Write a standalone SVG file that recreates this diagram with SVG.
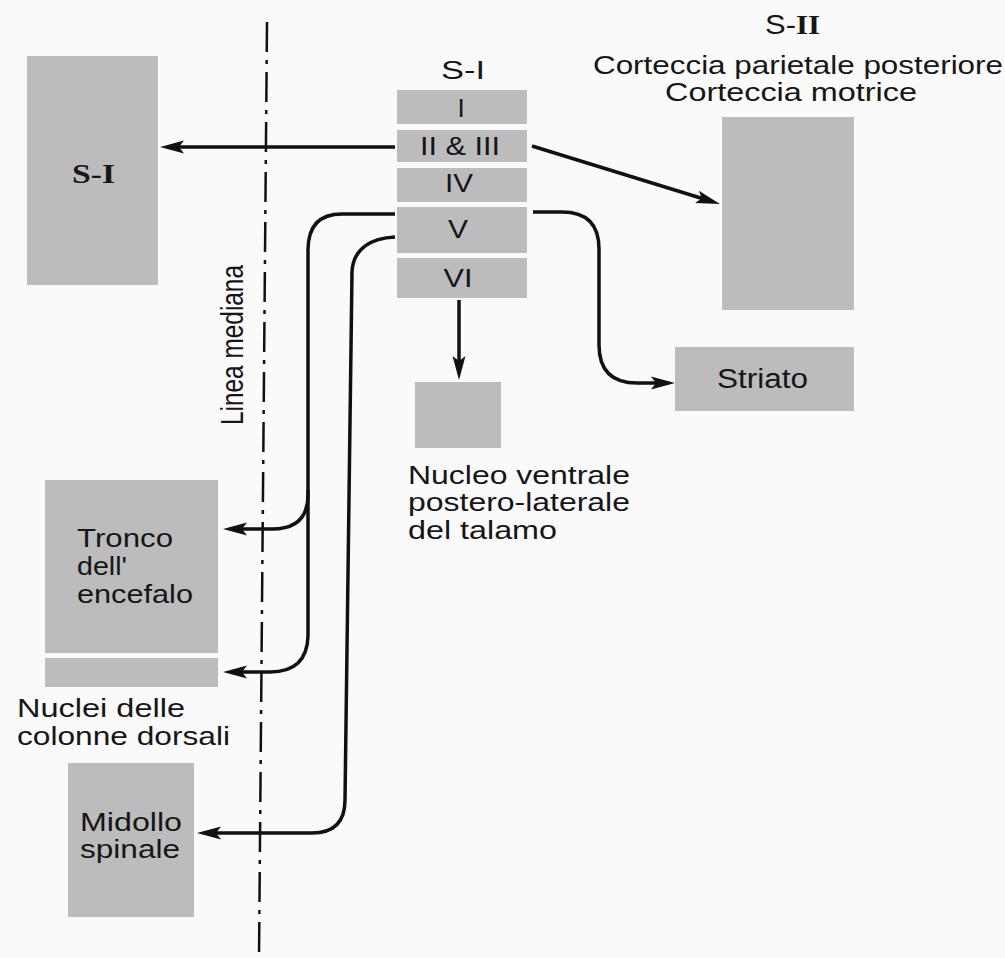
<svg xmlns="http://www.w3.org/2000/svg" width="1005" height="958" viewBox="0 0 1005 958">
  <defs>
    <style>
      .box { fill: #bcbcbc; }
      .lbl { font-family: "Liberation Sans", Arial, sans-serif; font-size: 27px; fill: #161616; }
      .ml { font-size: 25px; }
      .lay { font-family: "Liberation Sans", Arial, sans-serif; font-size: 26px; fill: #161616; text-anchor: middle; }
      .ser { font-family: "Liberation Serif", "Times New Roman", serif; font-weight: bold; }
      .conn { fill: none; stroke: #111; stroke-width: 3.5; stroke-linecap: butt; stroke-linejoin: round; }
      .mid { fill: none; stroke: #111; stroke-width: 2.5; stroke-dasharray: 30 8 4 8; }
    </style>
    <marker id="arr" markerUnits="userSpaceOnUse" viewBox="0 -7 25 14" refX="14" refY="0" markerWidth="25" markerHeight="14" orient="auto">
      <path d="M0,-6.5 L24,0 L0,6.5 L5,0 Z" fill="#111"/>
    </marker>
  </defs>
  <rect x="0" y="0" width="1005" height="958" fill="#fafafa"/>

  <!-- Midline -->
  <g id="midline">
    <line class="mid" x1="267" y1="22" x2="259" y2="958"/>
    <text class="lbl" font-size="25" transform="translate(243,425) scale(1.15,1) rotate(-90)" textLength="160" lengthAdjust="spacingAndGlyphs">Linea mediana</text>
  </g>

  <!-- Nodes -->
  <g id="node-si-left">
    <rect class="box" x="27" y="56" width="131" height="229"/>
    <text class="lbl ser" x="72" y="183" textLength="43" lengthAdjust="spacingAndGlyphs">S-I</text>
  </g>

  <g id="node-si-layers">
    <text class="lay" x="463" y="79" font-size="27" textLength="44" lengthAdjust="spacingAndGlyphs">S-I</text>
    <g id="layer-I">
      <rect class="box" x="397" y="90" width="130" height="34"/>
      <text class="lay" x="461" y="117">I</text>
    </g>
    <g id="layer-II-III">
      <rect class="box" x="397" y="130" width="130" height="32"/>
      <text class="lay" x="460" y="155" textLength="80" lengthAdjust="spacingAndGlyphs">II &amp; III</text>
    </g>
    <g id="layer-IV">
      <rect class="box" x="397" y="168" width="130" height="34"/>
      <text class="lay" x="459" y="192" textLength="28" lengthAdjust="spacingAndGlyphs">IV</text>
    </g>
    <g id="layer-V">
      <rect class="box" x="397" y="207" width="130" height="46"/>
      <text class="lay" x="458" y="238" textLength="20" lengthAdjust="spacingAndGlyphs">V</text>
    </g>
    <g id="layer-VI">
      <rect class="box" x="397" y="258" width="130" height="40"/>
      <text class="lay" x="458" y="287" textLength="29" lengthAdjust="spacingAndGlyphs">VI</text>
    </g>
  </g>

  <g id="node-sii">
    <text class="lbl" x="765" y="34" font-size="28" textLength="55" lengthAdjust="spacingAndGlyphs">S-<tspan class="ser">II</tspan></text>
    <text class="lbl ml" x="593" y="74" textLength="410" lengthAdjust="spacingAndGlyphs">Corteccia parietale posteriore</text>
    <text class="lbl ml" x="665" y="101" textLength="252" lengthAdjust="spacingAndGlyphs">Corteccia motrice</text>
    <rect class="box" x="722" y="117" width="132" height="193"/>
  </g>

  <g id="node-striato">
    <rect class="box" x="675" y="347" width="179" height="64"/>
    <text class="lbl" x="717" y="388" textLength="91" lengthAdjust="spacingAndGlyphs">Striato</text>
  </g>

  <g id="node-talamo">
    <rect class="box" x="415" y="382" width="86" height="66"/>
    <text class="lbl ml" x="408" y="484" textLength="222" lengthAdjust="spacingAndGlyphs">Nucleo ventrale</text>
    <text class="lbl ml" x="408" y="511" textLength="222" lengthAdjust="spacingAndGlyphs">postero-laterale</text>
    <text class="lbl ml" x="408" y="539" textLength="149" lengthAdjust="spacingAndGlyphs">del talamo</text>
  </g>

  <g id="node-tronco">
    <rect class="box" x="45" y="480" width="173" height="173"/>
    <text class="lbl ml" x="77" y="547" textLength="96" lengthAdjust="spacingAndGlyphs">Tronco</text>
    <text class="lbl ml" x="77" y="575" textLength="50" lengthAdjust="spacingAndGlyphs">dell'</text>
    <text class="lbl ml" x="77" y="603" textLength="116" lengthAdjust="spacingAndGlyphs">encefalo</text>
  </g>

  <g id="node-nuclei">
    <rect class="box" x="45" y="658" width="173" height="29"/>
    <text class="lbl ml" x="17" y="717" textLength="168" lengthAdjust="spacingAndGlyphs">Nuclei delle</text>
    <text class="lbl ml" x="17" y="745" textLength="213" lengthAdjust="spacingAndGlyphs">colonne dorsali</text>
  </g>

  <g id="node-midollo">
    <rect class="box" x="68" y="763" width="126" height="154"/>
    <text class="lbl ml" x="80" y="831" textLength="102" lengthAdjust="spacingAndGlyphs">Midollo</text>
    <text class="lbl ml" x="80" y="858" textLength="100" lengthAdjust="spacingAndGlyphs">spinale</text>
  </g>

  <!-- Connectors -->
  <g id="connectors">
    <path class="conn" d="M395,147 H170" marker-end="url(#arr)"/>
    <path class="conn" d="M532,146 L710.4,201" marker-end="url(#arr)"/>
    <path class="conn" d="M459,300 V370" marker-end="url(#arr)"/>
    <path class="conn" d="M533,212 H562 Q599,212 599,249 V345 Q599,383 637,383 H665" marker-end="url(#arr)"/>
    <path class="conn" d="M395,214 H342 Q308,214 308,250 V495 Q308,529 272,529 H233" marker-end="url(#arr)"/>
    <path class="conn" d="M308,490 V636 Q307,672 270,672 H233" marker-end="url(#arr)"/>
    <path class="conn" d="M395,237 C372,238 353,248 352,272 L345,800 Q345,833 312,833 H207" marker-end="url(#arr)"/>
  </g>
</svg>
